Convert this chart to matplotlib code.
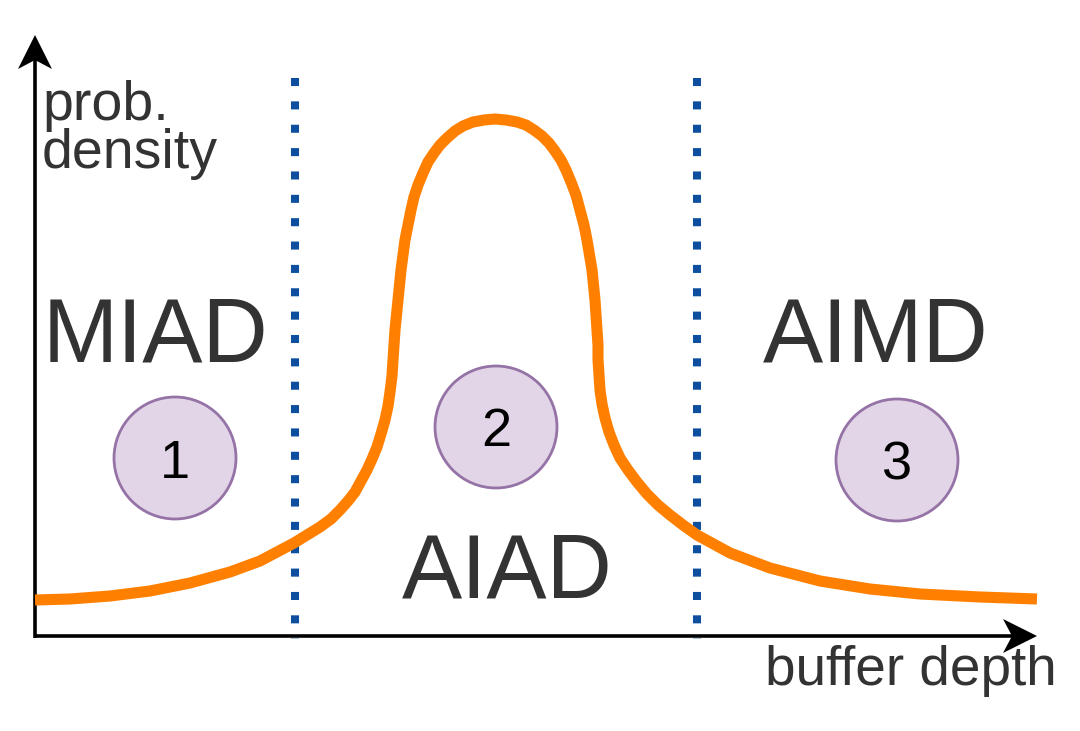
import matplotlib.pyplot as plt
from matplotlib.patches import Circle, Polygon

plt.rcParams['font.family'] = ['Liberation Sans', 'DejaVu Sans']

# ---- values (pixel space, y grows downwards) ----
curve_x = [35, 70, 110, 150, 190, 230, 260, 294, 307, 320, 331, 340, 348, 355, 361, 367,
           372, 377, 381, 385, 388, 390, 392, 393, 394, 395, 398, 401, 405, 408, 411, 414,
           418, 423, 428, 434, 440, 447, 455, 463, 473, 484, 495, 506, 517, 526, 534, 542,
           549, 555, 561, 566, 571, 576, 580, 584, 587, 592, 595, 597, 598, 598, 599, 600,
           602, 605, 609, 614, 620, 628, 637, 647, 658, 670, 683, 697, 730, 770, 820, 870,
           920, 980, 1037]
curve_y = [600, 599, 596, 591, 583, 572, 561, 543, 535, 527, 519, 510, 501, 492, 481, 470,
           459, 447, 434, 420, 406, 392, 376, 360, 345, 330, 300, 270, 240, 225, 210, 197,
           185, 173, 162, 153, 145, 138, 131, 126, 122, 120, 119, 120, 122, 125, 130, 136,
           143, 151, 160, 170, 182, 195, 210, 225, 240, 270, 300, 330, 345, 360, 375, 390,
           404, 418, 432, 445, 458, 470, 482, 494, 505, 515, 525, 535, 553, 568, 581, 589,
           594, 597, 599]

borders_x = [295, 697]
border_top = 78

region_labels = ['MIAD', 'AIAD', 'AIMD']
region_x = [156, 507, 876]
region_y = [362, 598, 362]

circle_labels = ['1', '2', '3']
circle_x = [175, 496, 897]
circle_y = [458, 427, 460]
circle_r = 61

origin = (35, 636)
x_end = 1037
y_end = 35

# ---------------------------------------------------------------------
fig = plt.figure(figsize=(10.8, 7.31), dpi=100)
ax = fig.add_axes([0, 0, 1, 1])
ax.set_xlim(0, 1080)
ax.set_ylim(731, 0)
ax.axis('off')

ink = '#333333'

# axes with arrow heads
ax.plot([origin[0], x_end - 20], [origin[1], origin[1]], color='black', lw=2.6, solid_capstyle='butt')
ax.plot([origin[0], origin[0]], [origin[1] + 2, y_end + 20], color='black', lw=2.6, solid_capstyle='butt')

hl, hw, notch = 34, 17, 9
ax.add_patch(Polygon([(x_end, origin[1]), (x_end - hl, origin[1] - hw),
                      (x_end - hl + notch, origin[1]), (x_end - hl, origin[1] + hw)],
                     closed=True, color='black', lw=0))
ax.add_patch(Polygon([(origin[0], y_end), (origin[0] - hw, y_end + hl),
                      (origin[0], y_end + hl - notch), (origin[0] + hw, y_end + hl)],
                     closed=True, color='black', lw=0))

# dotted region borders
for bx in borders_x:
    ax.plot([bx, bx], [border_top, origin[1] + 3], color='#0d4f9e', lw=5.8,
            linestyle=(0, (1, 1.9)), solid_capstyle='butt', dash_capstyle='butt')

# probability density curve
ax.plot(curve_x, curve_y, color='#ff8000', lw=8, solid_capstyle='butt',
        solid_joinstyle='round', zorder=3)

# region names
for lab, tx, ty in zip(region_labels, region_x, region_y):
    ax.text(tx, ty, lab, fontsize=65, color=ink, ha='center', va='baseline')

# numbered circles
for lab, cx, cy in zip(circle_labels, circle_x, circle_y):
    ax.add_patch(Circle((cx, cy), circle_r, facecolor='#e1d5e7', edgecolor='#9673a6',
                        lw=2, zorder=4))
    ax.text(cx, cy, lab, fontsize=39, color='black', ha='center', va='center_baseline',
            zorder=5)

# axis titles
ax.text(42, 120, 'prob.', fontsize=40, color=ink, ha='left', va='baseline')
ax.text(42, 168, 'density', fontsize=40, color=ink, ha='left', va='baseline')
ax.text(765, 685, 'buffer depth', fontsize=39.5, color=ink, ha='left', va='baseline')

fig.savefig('out.png', dpi=100)
